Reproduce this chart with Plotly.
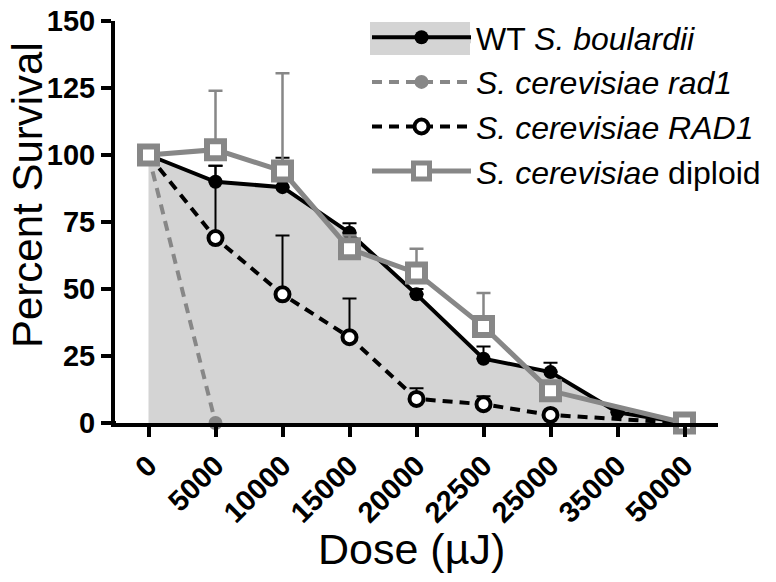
import plotly.graph_objects as go

doses = ["0", "5000", "10000", "15000", "20000", "22500", "25000", "35000", "50000"]

wt_boulardii = [100, 90, 88, 71, 48, 24, 19, 4, 0]
wt_boulardii_err = [0, 6, 11, 3.5, 2, 4.5, 3.5, 1.5, 0]

rad1_mutant = [100, 0, None, None, None, None, None, None, None]

rad1_wt = [100, 69, 48, 32, 9, 7, 3, None, 0]
rad1_wt_err = [0, 27, 22, 14.5, 4, 3, 0.5, 0, 0]

diploid = [100, 102, 94, 65, 56, 36, 12, None, 0]
diploid_err = [0, 22, 36.5, 5, 9, 12.5, 0, 0, 0]

y_ticks = [0, 25, 50, 75, 100, 125, 150]

FONT = "Liberation Sans, Arial, sans-serif"
GRAY = "#878787"
FILL = "#d4d4d4"

fig = go.Figure()

fig.add_trace(go.Scatter(
    x=doses, y=wt_boulardii, name="WT <i>S. boulardii</i>",
    mode="lines+markers", fill="tozeroy", fillcolor=FILL,
    line=dict(color="black", width=4),
    marker=dict(symbol="circle", size=14, color="black"),
    error_y=dict(type="data", array=wt_boulardii_err, arrayminus=[0]*9,
                 symmetric=False, color="black", thickness=2, width=7),
    cliponaxis=False,
))

fig.add_trace(go.Scatter(
    x=doses, y=rad1_mutant, name="<i>S. cerevisiae rad1</i>",
    mode="lines+markers",
    line=dict(color=GRAY, width=4, dash="10px,7px"),
    marker=dict(symbol="circle", size=14, color=GRAY),
    cliponaxis=False,
))

fig.add_trace(go.Scatter(
    x=doses, y=rad1_wt, name="<i>S. cerevisiae RAD1</i>",
    mode="lines+markers", connectgaps=True,
    line=dict(color="black", width=4, dash="10px,7px"),
    marker=dict(symbol="circle", size=14, color="white",
                line=dict(color="black", width=4)),
    error_y=dict(type="data", array=rad1_wt_err, arrayminus=[0]*9,
                 symmetric=False, color="black", thickness=2, width=7),
    cliponaxis=False,
))

fig.add_trace(go.Scatter(
    x=doses, y=diploid, name="<i>S. cerevisiae</i> diploid",
    mode="lines+markers", connectgaps=True,
    line=dict(color=GRAY, width=5),
    marker=dict(symbol="square", size=17, color="white",
                line=dict(color=GRAY, width=6)),
    error_y=dict(type="data", array=diploid_err, arrayminus=[0]*9,
                 symmetric=False, color=GRAY, thickness=2.5, width=7),
    cliponaxis=False,
))

# body margin is removed below, so the figure fills the 776x582 window
W, H = 776, 582
ML, MT = 115, 21
PW, PH = 603, 402
MR, MB = W - ML - PW, H - MT - PH

def px_x(p):
    return (p - ML) / PW

def px_y(p):
    return (MT + PH - p) / PH

fig.update_layout(
    width=W, height=H,
    margin=dict(l=ML, r=MR, t=MT, b=MB, autoexpand=False),
    paper_bgcolor="white", plot_bgcolor="white",
    font=dict(family=FONT, color="black"),
    showlegend=True,
    legend=dict(
        x=px_x(367), y=px_y(10), xanchor="left", yanchor="top",
        font=dict(family=FONT, size=32, color="black"),
        itemwidth=99, bgcolor="rgba(0,0,0,0)", tracegroupgap=0,
    ),
    xaxis=dict(
        type="category", categoryorder="array", categoryarray=doses,
        range=[-0.5, 8.5], showline=True, linecolor="black", linewidth=4,
        ticks="outside", ticklen=10, tickwidth=4, tickcolor="black",
        tickangle=-45, showgrid=False, zeroline=False,
        ticklabeloverflow="allow",
        tickfont=dict(family=FONT, size=29, weight="bold", color="black"),
    ),
    yaxis=dict(
        range=[0, 150], tickvals=y_ticks,
        showline=True, linecolor="black", linewidth=4,
        ticks="outside", ticklen=10, tickwidth=4, tickcolor="black",
        showgrid=False, zeroline=False, ticklabeloverflow="allow",
        tickfont=dict(family=FONT, size=29, weight="bold", color="black"),
    ),
    shapes=[
        dict(type="rect", xref="paper", yref="paper",
             x0=px_x(370), x1=px_x(470), y0=px_y(55), y1=px_y(22),
             fillcolor=FILL, line=dict(width=0), layer="above"),
        dict(type="line", xref="paper", yref="paper",
             x0=px_x(105), x1=px_x(116), y0=0, y1=0,
             line=dict(color="black", width=4), layer="above"),
    ],
    annotations=[
        dict(text="Percent Survival", textangle=-90, showarrow=False,
             xref="paper", yref="paper", x=px_x(27), y=px_y(195),
             xanchor="center", yanchor="middle",
             font=dict(family=FONT, size=42, color="black")),
        dict(text="Dose (µJ)", showarrow=False,
             xref="paper", yref="paper", x=px_x(411), y=px_y(549),
             xanchor="center", yanchor="middle",
             font=dict(family=FONT, size=43, color="black")),
    ],
)

fig.write_html("out.html",
               config={"displayModeBar": False},
               post_script="document.body.style.margin='0px';")
